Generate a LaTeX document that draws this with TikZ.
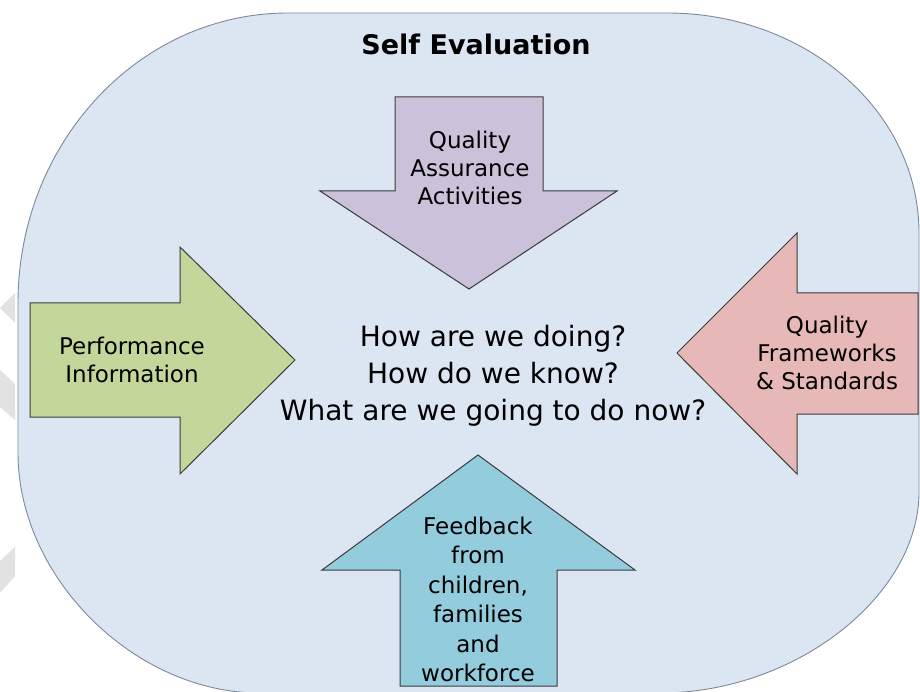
\documentclass[tikz,border=0pt]{standalone}
\usepackage{fontspec}
\setmainfont{DejaVu Sans}
\definecolor{bgblue}{HTML}{DCE6F2}
\definecolor{bgline}{HTML}{7A8A9A}
\definecolor{qapurple}{HTML}{CCC1DA}
\definecolor{pigreen}{HTML}{C4D79B}
\definecolor{qfpink}{HTML}{E6B8B7}
\definecolor{fbblue}{HTML}{93CDDD}
\definecolor{arrline}{HTML}{3A3A3A}
\definecolor{wmgray}{HTML}{E2E2E2}
\tikzset{
  bigarrow/.style={draw=arrline, line width=1pt, line join=miter},
  lbl/.style={align=center, inner sep=0pt, anchor=north, font=\fontsize{23}{28}\selectfont},
}
\begin{document}
\begin{tikzpicture}[x=1pt,y=-1pt]
\useasboundingbox (0,0) rectangle (920,692);
% faint watermark shapes at the left edge
\fill[wmgray] (0,308) -- (15,293) -- (15,323) -- cycle;
\fill[wmgray] (0,370) -- (15,384) -- (15,420) -- (0,407) -- cycle;
\fill[wmgray] (0,561) -- (15,547) -- (15,576) -- (0,593) -- cycle;
% background panel
\draw[fill=bgblue, draw=bgline, line width=0.9pt]
  (18,303) .. controls (18,143) and (139,13) .. (288,13)
  -- (667,13) .. controls (806,13) and (919,111) .. (919,233)
  -- (919,492) .. controls (919,596) and (795,693) .. (660,693)
  -- (260,693) .. controls (134,693) and (18,577) .. (18,453)
  -- cycle;
% title
\node[anchor=base, inner sep=0pt, font=\bfseries\fontsize{27}{32}\selectfont] (title) at (476,55) {Self Evaluation};
% arrows
\draw[bigarrow, fill=qapurple] (395,97) -- (543,97) -- (543,191) -- (617,191) -- (469,289) -- (320,191) -- (395,191) -- cycle;
\draw[bigarrow, fill=pigreen] (30,303) -- (180,303) -- (180,247) -- (295,360) -- (180,474) -- (180,417) -- (30,417) -- cycle;
\draw[bigarrow, fill=qfpink] (918,293) -- (797,293) -- (797,233) -- (677,353) -- (797,474) -- (797,414) -- (918,414) -- cycle;
\draw[bigarrow, fill=fbblue] (400,686) -- (400,570) -- (322,570) -- (478,455) -- (635,570) -- (557,570) -- (557,686) -- cycle;
% labels
\node[lbl] (qa) at (470,130.5) {Quality\\Assurance\\Activities};
\node[lbl] (pi) at (132,336.5) {Performance\\Information};
\node[lbl] (qf) at (827,315.5) {Quality\\Frameworks\\\& Standards};
\node[lbl, font=\fontsize{23}{29.5}\selectfont] (fb) at (478,516.5) {Feedback\\from\\children,\\families\\and\\workforce};
\node[lbl, font=\fontsize{28}{37}\selectfont] (q) at (493,324.7) {How are we doing?\\How do we know?\\What are we going to do now?};
\end{tikzpicture}
\end{document}
